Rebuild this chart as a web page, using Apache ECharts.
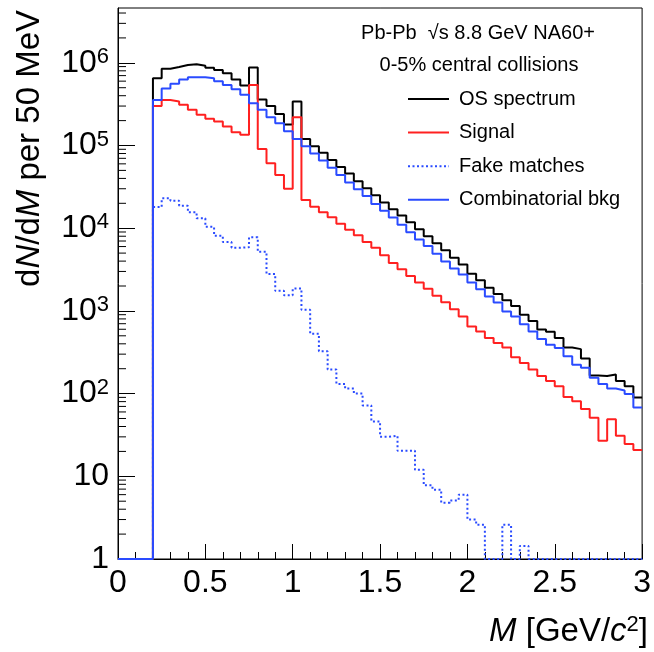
<!DOCTYPE html>
<html><head><meta charset="utf-8">
<script src="https://cdn.jsdelivr.net/npm/echarts@6/dist/echarts.min.js"></script>
<style>html,body{margin:0;padding:0;background:#fff}#c{width:654px;height:652px}</style>
</head><body><div id="c"></div>
<script>
// ---- data (counts per 50 MeV bin, bins from 0.00 to 3.00 GeV/c^2) ----
const binWidth = 0.05;
const binLowEdge = 0.0;
const xTickLabels = ['0', '0.5', '1', '1.5', '2', '2.5', '3'];
const yTickLabels = ['1', '10', '10^2', '10^3', '10^4', '10^5', '10^6'];

const osSpectrum = [0, 0, 0, 0,
  6.5e5, 8.5e5, 8.9e5, 9.4e5, 9.6e5, 9.2e5, 8.7e5, 8.2e5, 7.5e5, 6.3e5,
  5.3e5, 8.8e5, 3.6e5, 3.0e5, 2.4e5, 1.8e5, 3.4e5, 1.2e5, 9.8e4, 8.2e4,
  6.7e4, 5.5e4, 4.6e4, 3.7e4, 3.05e4, 2.5e4, 2.05e4, 1.7e4, 1.42e4, 1.18e4,
  9.7e3, 8.0e3, 6.6e3, 5.4e3, 4.4e3, 3.65e3, 2.82e3, 2.35e3, 1.9e3, 1.6e3,
  1.35e3, 1.15e3, 900, 757, 595, 560, 470, 360, 345, 265,
  165, 163, 170, 142, 123, 90];

const signal = [0, 0, 0, 0,
  3.0e5, 3.55e5, 3.4e5, 3.1e5, 2.7e5, 2.35e5, 2.1e5, 1.95e5, 1.7e5, 1.45e5,
  1.35e5, 5.4e5, 9.1e4, 6.1e4, 4.4e4, 3.0e4, 2.2e5, 2.2e4, 1.82e4, 1.56e4,
  1.36e4, 1.13e4, 9.6e3, 8.2e3, 6.8e3, 5.8e3, 4.7e3, 3.8e3, 3.2e3, 2.65e3,
  2.2e3, 1.85e3, 1.53e3, 1.27e3, 1.05e3, 855, 650, 565, 470, 408,
  362, 275, 235, 195, 163, 142, 123, 91, 81, 65,
  51, 27, 49, 31, 24.5, 20.8];

const fakeMatches = [0, 0, 0, 0,
  1.8e4, 2.3e4, 2.15e4, 1.87e4, 1.56e4, 1.32e4, 1.04e4, 8.1e3, 6.8e3, 5.8e3,
  5.9e3, 7.8e3, 5.2e3, 2.8e3, 1.75e3, 1.55e3, 1.87e3, 1.03e3, 530, 325,
  195, 131, 115, 100, 72, 46, 30, 31, 20.4, 20.4,
  12, 7.8, 6.9, 4.8, 5.1, 6.0, 3.0, 2.6, 0, 0,
  2.6, 0, 1.44, 0, 0, 0, 0, 0, 0, 0,
  0, 0, 0, 0, 0, 0];

const combinatorial = [0, 0, 0, 0,
  3.56e5, 4.9e5, 5.6e5, 6.3e5, 6.7e5, 6.7e5, 6.5e5, 6.0e5, 5.4e5, 4.8e5,
  4.1e5, 3.25e5, 2.7e5, 2.2e5, 1.86e5, 1.49e5, 1.2e5, 9.8e4, 8.0e4, 6.6e4,
  5.4e4, 4.4e4, 3.56e4, 2.96e4, 2.46e4, 1.96e4, 1.63e4, 1.35e4, 1.1e4, 8.95e3,
  7.3e3, 6.1e3, 4.9e3, 3.97e3, 3.25e3, 2.75e3, 2.2e3, 1.83e3, 1.49e3, 1.26e3,
  982, 855, 691, 565, 456, 390, 356, 283, 224, 205,
  155, 131, 115, 109, 99, 68];

const seriesNames = ['OS spectrum', 'Signal', 'Fake matches', 'Combinatorial bkg'];
const seriesColors = ['#000000', '#ff2020', '#2a4bff', '#2a4bff'];

// ---- chart ----
const yMin = 1, yMax = 4.6e6;
const FONT = '"Liberation Sans", Arial, Helvetica, sans-serif';

function histPoints(values) {
  const pts = [];
  for (let k = 0; k < values.length; k++) {
    const lo = binLowEdge + k * binWidth, hi = binLowEdge + (k + 1) * binWidth;
    const v = Math.max(values[k], yMin);
    pts.push([lo, v], [hi, v]);
  }
  return pts;
}

const minorY = [];
for (let e = 0; e <= 6; e++) for (let m = 2; m <= 9; m++) {
  const v = m * Math.pow(10, e);
  if (v < yMax) minorY.push([0, v]);
}

function yLabel(v) {
  const e = Math.round(Math.log10(v));
  const t = yTickLabels[e];
  if (t === undefined) return '';
  if (t.indexOf('^') < 0) return '{b|' + t + '}';
  const parts = t.split('^');
  return '{b|' + parts[0] + '}{s|' + parts[1] + '}';
}

const chart = echarts.init(document.getElementById('c'), null, {renderer: 'canvas'});
const lineSeries = (name, values, color, dashed, z) => ({
  name, type: 'line', data: histPoints(values), symbol: 'none', showSymbol: false,
  lineStyle: {color, width: 2, type: dashed ? [2, 2.5] : 'solid'},
  itemStyle: {color}, z, animation: false, silent: true
});

chart.setOption({
  animation: false,
  backgroundColor: '#fff',
  grid: {left: 118, right: 6, top: 8, bottom: 93, show: true, borderColor: '#000', borderWidth: 1, backgroundColor: 'transparent'},
  xAxis: {
    type: 'value', min: 0, max: 3, interval: 0.5,
    axisLine: {show: true, lineStyle: {color: '#000', width: 1}},
    axisTick: {show: true, inside: true, length: 15, lineStyle: {color: '#000', width: 1}},
    minorTick: {show: true, splitNumber: 5, length: 7, lineStyle: {color: '#000', width: 1}},
    splitLine: {show: false},
    axisLabel: {
      margin: 8, fontSize: 32, fontFamily: FONT, color: '#000',
      formatter: v => xTickLabels[Math.round(v / 0.5)] ?? ''
    }
  },
  yAxis: {
    type: 'log', logBase: 10, min: yMin, max: yMax, interval: 1,
    axisLine: {show: true, lineStyle: {color: '#000', width: 1}},
    axisTick: {show: true, inside: true, length: 17, lineStyle: {color: '#000', width: 1}},
    splitLine: {show: false},
    axisLabel: {
      margin: 9, color: '#000', fontFamily: FONT, fontSize: 32, showMaxLabel: false,
      formatter: yLabel,
      rich: {
        b: {fontSize: 32, fontFamily: FONT, color: '#000', lineHeight: 34},
        s: {fontSize: 22, fontFamily: FONT, color: '#000', lineHeight: 22, verticalAlign: 'top'}
      }
    }
  },
  legend: {
    data: seriesNames, orient: 'vertical', left: 407, top: 89, padding: 0,
    itemWidth: 41, itemHeight: 20, itemGap: 13.6,
    itemStyle: {opacity: 0},
    textStyle: {fontSize: 20, fontFamily: FONT, color: '#000', padding: [0, 0, 0, 5]},
    selectedMode: false
  },
  graphic: [
    {type: 'text', x: 478, y: 33, style: {text: 'Pb-Pb  \u221As 8.8 GeV NA60+', font: '20px ' + FONT, fill: '#000', align: 'center', verticalAlign: 'middle'}},
    {type: 'text', x: 479, y: 65, style: {text: '0-5% central collisions', font: '20px ' + FONT, fill: '#000', align: 'center', verticalAlign: 'middle'}},
    {type: 'text', x: 648, y: 632, style: {
      text: '{i|M} [GeV/{i|c}{s|2}]', fill: '#000', align: 'right', verticalAlign: 'middle',
      font: '33px ' + FONT,
      rich: {
        i: {fontSize: 33, fontFamily: FONT, fontStyle: 'italic', lineHeight: 36},
        s: {fontSize: 22, fontFamily: FONT, lineHeight: 22, verticalAlign: 'top'}
      }
    }},
    {type: 'text', x: 30, y: 10, rotation: Math.PI / 2, style: {
      text: 'd{i|N}/d{i|M} per 50 MeV', fill: '#000', align: 'right', verticalAlign: 'middle',
      font: '33px ' + FONT,
      rich: {i: {fontSize: 33, fontFamily: FONT, fontStyle: 'italic'}}
    }}
  ],
  series: [
    lineSeries(seriesNames[0], osSpectrum, seriesColors[0], false, 3),
    lineSeries(seriesNames[1], signal, seriesColors[1], false, 4),
    lineSeries(seriesNames[2], fakeMatches, seriesColors[2], true, 5),
    lineSeries(seriesNames[3], combinatorial, seriesColors[3], false, 6),
    {
      type: 'custom', silent: true, z: 7, clip: false, data: minorY,
      renderItem: (params, api) => {
        const p = api.coord([0, api.value(1)]);
        return {type: 'line', shape: {x1: p[0], y1: p[1], x2: p[0] + 8, y2: p[1]}, style: {stroke: '#000', lineWidth: 1}};
      }
    }
  ]
});
</script>
</body></html>
